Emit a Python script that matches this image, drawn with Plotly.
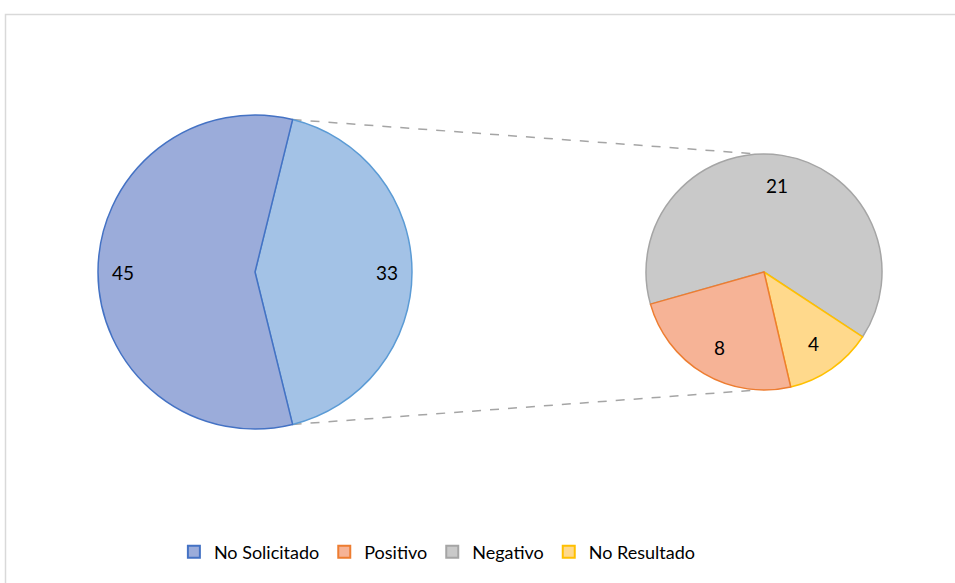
import math
import plotly.graph_objects as go

# ---------------- data ----------------
main_labels = ["Otros", "No Solicitado"]
detail_labels = ["Negativo", "No Resultado", "Positivo"]
detail_values = [21, 4, 8]
no_solicitado = 45
main_values = [sum(detail_values), no_solicitado]

legend_labels = ["No Solicitado", "Positivo", "Negativo", "No Resultado"]

# ---------------- styles ----------------
W, H = 955, 583
FONT = "Lato"
fill = {
    "No Solicitado": "#9BACDA",
    "Otros": "#A3C2E6",
    "Negativo": "#C9C9C9",
    "No Resultado": "#FFD98C",
    "Positivo": "#F6B396",
}
edge = {
    "No Solicitado": "#4472C4",
    "Otros": "#5B9BD5",
    "Negativo": "#A5A5A5",
    "No Resultado": "#FFC000",
    "Positivo": "#ED7D31",
}

# pie geometry in pixels (center x, center y, radius)
L_CX, L_CY, L_R = 255, 272, 157
R_CX, R_CY, R_R = 764, 272, 118


def dom(cx, cy, r):
    return dict(x=[(cx - r) / W, (cx + r) / W], y=[1 - (cy + r) / H, 1 - (cy - r) / H])


# rotations so the "Otros" slice is centred at 3 o'clock
other_span = 360 * main_values[0] / sum(main_values)
left_rot = 90 - other_span / 2
# detail pie: first slice (Negativo) starts here, clockwise
right_rot = 254.2

fig = go.Figure()

fig.add_trace(go.Pie(
    labels=main_labels, values=main_values, sort=False, direction="clockwise",
    rotation=left_rot, domain=dom(L_CX, L_CY, L_R),
    marker=dict(colors=[fill[l] for l in main_labels],
                line=dict(color=[edge[l] for l in main_labels], width=1.5)),
    textinfo="none", showlegend=False, hoverinfo="label+value",
))

fig.add_trace(go.Pie(
    labels=detail_labels, values=detail_values, sort=False, direction="clockwise",
    rotation=right_rot - 360, domain=dom(R_CX, R_CY, R_R),
    marker=dict(colors=[fill[l] for l in detail_labels],
                line=dict(color=[edge[l] for l in detail_labels], width=1.5)),
    textinfo="none", showlegend=False, hoverinfo="label+value",
))

# legend entries
for lab in legend_labels:
    fig.add_trace(go.Scatter(
        x=[None], y=[None], mode="markers", name=lab,
        marker=dict(symbol="square", size=11, color=fill[lab],
                    line=dict(color=edge[lab], width=1.5)),
    ))


def slice_labels(values, rot, cx, cy, r, frac):
    """Data labels placed along each slice's bisector (computed from values)."""
    out = []
    total = sum(values)
    start = rot
    for v in values:
        span = 360 * v / total
        mid = math.radians(start + span / 2)
        x = cx + r * frac * math.sin(mid)
        y = cy - r * frac * math.cos(mid)
        out.append(dict(x=x / W, y=1 - y / H, xref="paper", yref="paper", text=str(v),
                        showarrow=False, xanchor="center", yanchor="middle",
                        font=dict(family=FONT, size=19, color="#000000")))
        start += span
    return out


annotations = slice_labels(main_values, left_rot, L_CX, L_CY, L_R, 0.84)
annotations += slice_labels(detail_values, right_rot, R_CX, R_CY, R_R, 0.74)

# connector lines between the pies
a0 = math.radians(left_rot)
a1 = math.radians(left_rot + other_span)
p_top = (L_CX + L_R * math.sin(a0), L_CY - L_R * math.cos(a0))
p_bot = (L_CX + L_R * math.sin(a1), L_CY - L_R * math.cos(a1))
q_top = (R_CX - 7, R_CY - R_R)
q_bot = (R_CX - 7, R_CY + R_R)

shapes = []
for p, q in [(p_top, q_top), (p_bot, q_bot)]:
    shapes.append(dict(type="line", xref="paper", yref="paper",
                       x0=p[0] / W, y0=1 - p[1] / H, x1=q[0] / W, y1=1 - q[1] / H,
                       line=dict(color="#A5A5A5", width=1.5, dash="dash"), layer="below"))
# chart frame
shapes.append(dict(type="rect", xref="paper", yref="paper",
                   x0=5.5 / W, y0=-0.05, x1=1.05, y1=1 - 14.5 / H,
                   line=dict(color="#D9D9D9", width=1.5), fillcolor="rgba(0,0,0,0)", layer="below"))

fig.update_layout(
    width=W, height=H, margin=dict(l=0, r=0, t=0, b=0),
    paper_bgcolor="white", plot_bgcolor="white",
    xaxis=dict(visible=False), yaxis=dict(visible=False),
    shapes=shapes, annotations=annotations,
    legend=dict(orientation="h", x=0.458, xanchor="center", y=1 - 552 / H, yanchor="middle",
                font=dict(family=FONT, size=18, color="#000000"),
                itemsizing="constant", bgcolor="rgba(0,0,0,0)"),
    font=dict(family=FONT),
)

fig.write_html("out.html")
